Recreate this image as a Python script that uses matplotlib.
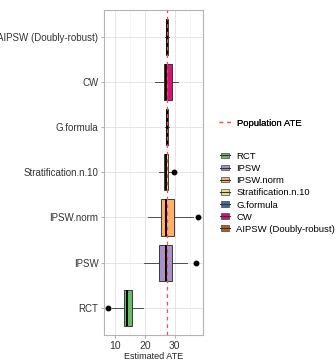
import matplotlib.pyplot as plt
from matplotlib.legend_handler import HandlerBase
from matplotlib.lines import Line2D
from matplotlib.patches import Patch, Rectangle

plt.rcParams["font.family"] = ["Liberation Sans", "DejaVu Sans"]

# summary stats (bottom to top)
methods = ["RCT", "IPSW", "IPSW.norm", "Stratification.n.10",
           "G.formula", "CW", "AIPSW (Doubly-robust)"]
q1 = [13.0, 24.8, 25.2, 26.2, 26.9, 26.2, 26.9]
med = [14.0, 26.9, 27.0, 27.0, 27.3, 27.2, 27.3]
q3 = [15.8, 29.1, 29.7, 27.8, 27.7, 28.9, 27.7]
whislo = [8.9, 19.8, 20.9, 24.8, 26.6, 23.3, 26.7]
whishi = [19.2, 34.2, 35.9, 28.6, 28.0, 30.9, 27.9]
outliers = [[7.8], [37.0], [37.9], [29.7], [], [], []]
fills = ["#66bb66", "#a890c9", "#fbb06c", "#e6e68a",
         "#386cb0", "#d8127a", "#bf5b17"]
pop_ate = 27.3

stats = []
for i, m in enumerate(methods):
    stats.append({"label": m, "q1": q1[i], "med": med[i], "q3": q3[i],
                  "whislo": whislo[i], "whishi": whishi[i], "fliers": outliers[i]})

fig = plt.figure(figsize=(3.36, 3.64), dpi=100)
ax = fig.add_axes([0.3095, 0.0797, 0.2946, 0.8942])

pos = list(range(1, len(methods) + 1))
bp = ax.bxp(stats, positions=pos, vert=False, widths=0.8, patch_artist=True,
            boxprops=dict(edgecolor="#222222", linewidth=0.6),
            medianprops=dict(color="black", linewidth=1.4),
            whiskerprops=dict(color="#333333", linewidth=0.6),
            capprops=dict(linewidth=0),
            flierprops=dict(marker="o", markerfacecolor="black",
                            markeredgecolor="black", markersize=3.2),
            zorder=3)
for patch, c in zip(bp["boxes"], fills):
    patch.set_facecolor(c)

ax.axvline(pop_ate, color="#f0504a", linestyle=(0, (3, 3)), linewidth=0.9, zorder=5)

ax.set_xlim(6.3, 39.4)
ax.set_ylim(0.4, 7.6)
ax.set_xticks([10, 20, 30])
ax.set_xticks([15, 25, 35], minor=True)
ax.set_yticks(pos)
ax.set_yticklabels(methods)
ax.grid(True, which="major", color="#e0e0e0", linewidth=0.6, zorder=0)
ax.grid(True, which="minor", axis="x", color="#efefef", linewidth=0.4, zorder=0)
ax.set_axisbelow(True)
for s in ax.spines.values():
    s.set_color("#b3b3b3")
    s.set_linewidth(0.8)
ax.tick_params(which="major", length=2.5, color="#b3b3b3",
               labelcolor="#333333", pad=1.5)
ax.tick_params(axis="y", labelsize=7)
ax.tick_params(axis="x", labelsize=7.5)
ax.tick_params(which="minor", length=0)
ax.set_xlabel("Estimated ATE", fontsize=6.5, color="#222222", labelpad=1)


class BoxKey(HandlerBase):
    def create_artists(self, legend, orig, xd, yd, w, h, fontsize, trans):
        r = Rectangle((xd + 0.1 * w, yd + 0.1 * h), 0.8 * w, 0.8 * h,
                      facecolor=orig.get_facecolor(), edgecolor="#444444",
                      linewidth=0.5, transform=trans)
        ln = Line2D([xd, xd + w], [yd + h / 2, yd + h / 2], color="#333333",
                    linewidth=0.8, transform=trans)
        return [r, ln]


leg1 = fig.legend([Line2D([], [], color="#f0504a", linestyle=(0, (3, 3)), linewidth=0.9)],
                  ["Population ATE"], loc="center left", bbox_to_anchor=(0.625, 0.662),
                  frameon=False, fontsize=6.8, handlelength=1.4, handletextpad=0.6)
handles = [Patch(facecolor=c) for c in fills]
leg2 = fig.legend(handles, methods, loc="center left", bbox_to_anchor=(0.63, 0.47),
                  frameon=False, fontsize=6.8, handlelength=1.0, handleheight=0.75,
                  handletextpad=0.7, labelspacing=0.33,
                  handler_map={Patch: BoxKey()})
fig.add_artist(leg1)

fig.savefig("out.png", dpi=100)
